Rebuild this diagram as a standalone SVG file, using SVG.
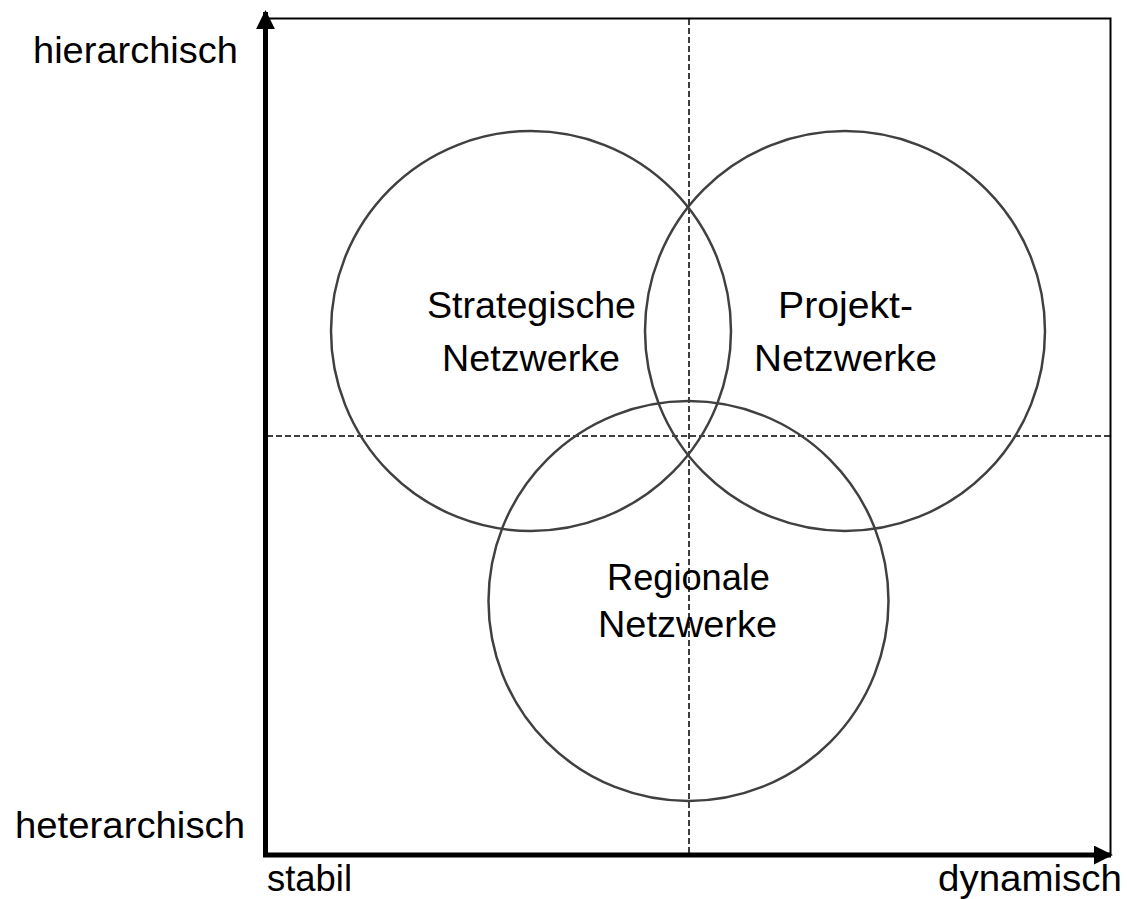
<svg xmlns="http://www.w3.org/2000/svg" width="1127" height="899" viewBox="0 0 1127 899">
  <style>
    .lbl { font-family: "Liberation Sans", Arial, sans-serif; font-size: 37px; fill: #000; }
    .mid { text-anchor: middle; }
    .frame { fill: none; stroke: #000; stroke-width: 2; }
    .axis { fill: none; stroke: #000; stroke-width: 5; }
    .guide { fill: none; stroke: #000; stroke-width: 1.5; stroke-dasharray: 6 3; }
    .ring { fill: none; stroke: #404040; stroke-width: 2.5; }
  </style>
  <defs>
    <marker id="head" viewBox="0 0 10 10" refX="9" refY="5" markerWidth="3.8" markerHeight="3.8" markerUnits="strokeWidth" orient="auto">
      <path d="M0,0 L10,5 L0,10 z" fill="#000"/>
    </marker>
  </defs>
  <rect width="1127" height="899" fill="#fff"/>

  <!-- frame, axes and quadrant guides -->
  <g id="connectors">
    <path class="frame" d="M265,18.5 H1110.5 V855"/>
    <line class="guide" x1="689" y1="19" x2="689" y2="853"/>
    <line class="guide" x1="267" y1="436" x2="1110" y2="436"/>
    <line class="axis" x1="265.5" y1="857" x2="265.5" y2="12" marker-end="url(#head)"/>
    <line class="axis" x1="263" y1="855" x2="1111" y2="855" marker-end="url(#head)"/>
  </g>

  <!-- axis labels -->
  <g id="axis-labels">
    <text class="lbl" x="33" y="63" textLength="205" lengthAdjust="spacingAndGlyphs">hierarchisch</text>
    <text class="lbl" x="15" y="838" textLength="230" lengthAdjust="spacingAndGlyphs">heterarchisch</text>
    <text class="lbl" x="267" y="891" textLength="85" lengthAdjust="spacingAndGlyphs">stabil</text>
    <text class="lbl" x="938" y="891" textLength="184" lengthAdjust="spacingAndGlyphs">dynamisch</text>
  </g>

  <g id="strategische">
    <circle class="ring" cx="531" cy="331" r="200"/>
    <text class="lbl mid" x="531.5" y="318" textLength="209" lengthAdjust="spacingAndGlyphs">Strategische</text>
    <text class="lbl mid" x="531" y="371" textLength="178" lengthAdjust="spacingAndGlyphs">Netzwerke</text>
  </g>

  <g id="projekt">
    <circle class="ring" cx="845" cy="331" r="200"/>
    <text class="lbl mid" x="845.5" y="318" textLength="135" lengthAdjust="spacingAndGlyphs">Projekt-</text>
    <text class="lbl mid" x="845.5" y="371" textLength="183" lengthAdjust="spacingAndGlyphs">Netzwerke</text>
  </g>

  <g id="regionale">
    <circle class="ring" cx="688.5" cy="601" r="200"/>
    <text class="lbl mid" x="688.5" y="590" textLength="163" lengthAdjust="spacingAndGlyphs">Regionale</text>
    <text class="lbl mid" x="687.5" y="637" textLength="179" lengthAdjust="spacingAndGlyphs">Netzwerke</text>
  </g>
</svg>
